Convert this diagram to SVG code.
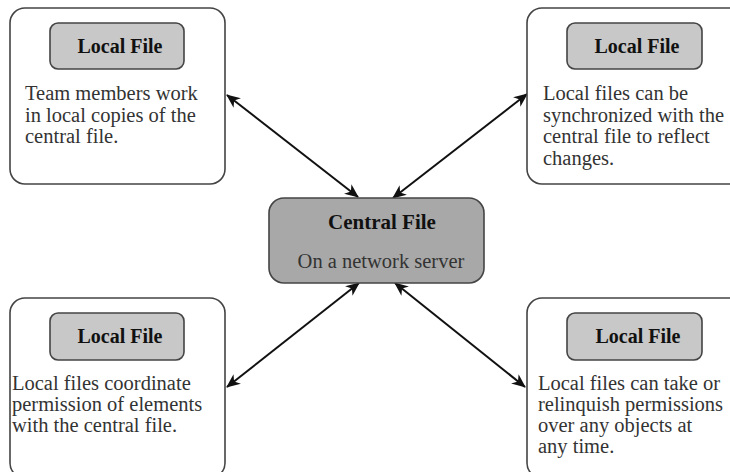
<svg xmlns="http://www.w3.org/2000/svg" width="730" height="472" viewBox="0 0 730 472">
  <style>
    .outer { fill: #ffffff; stroke: #444444; stroke-width: 1.6; }
    .tag { fill: #c8c8c8; stroke: #444444; stroke-width: 1.6; }
    .hub { fill: #a8a8a8; stroke: #444444; stroke-width: 1.6; }
    .title { font-family: "Liberation Serif", "DejaVu Serif", serif; font-weight: bold; font-size: 20px; fill: #111111; text-anchor: middle; }
    .body { font-family: "Liberation Serif", "DejaVu Serif", serif; font-size: 20.5px; fill: #333333; }
    .link { stroke: #111111; stroke-width: 2; fill: none; marker-start: url(#head); marker-end: url(#head); }
  </style>
  <defs>
    <marker id="head" viewBox="0 0 14 12" refX="13" refY="6" markerWidth="14" markerHeight="12" markerUnits="userSpaceOnUse" orient="auto-start-reverse">
      <path d="M0,0 L14,6 L0,12 L4,6 Z" fill="#111111"/>
    </marker>
  </defs>

  <rect width="730" height="472" fill="#ffffff"/>

  <!-- connectors between the central file and each local file -->
  <g id="connectors">
    <line class="link" x1="227" y1="95" x2="358" y2="197"/>
    <line class="link" x1="527" y1="94" x2="393" y2="198"/>
    <line class="link" x1="227" y1="387" x2="359" y2="283"/>
    <line class="link" x1="525" y1="387" x2="395" y2="283"/>
  </g>

  <g id="central">
    <rect class="hub" x="269" y="198" width="215" height="85" rx="15"/>
    <text class="title" x="382" y="229" style="font-size:21px">Central File</text>
    <text class="body" x="381" y="268" text-anchor="middle">On a network server</text>
  </g>

  <g id="local-top-left">
    <rect class="outer" x="10" y="8" width="215" height="176" rx="15"/>
    <rect class="tag" x="50" y="23" width="134" height="46" rx="8"/>
    <text class="title" x="120" y="53">Local File</text>
    <text class="body" x="25" y="100">Team members work</text>
    <text class="body" x="25" y="122">in local copies of the</text>
    <text class="body" x="25" y="143">central file.</text>
  </g>

  <g id="local-top-right">
    <rect class="outer" x="527" y="8" width="220" height="176" rx="15"/>
    <rect class="tag" x="567" y="23" width="135" height="46" rx="8"/>
    <text class="title" x="637" y="53">Local File</text>
    <text class="body" x="543" y="100">Local files can be</text>
    <text class="body" x="543" y="122">synchronized with the</text>
    <text class="body" x="543" y="143">central file to reflect</text>
    <text class="body" x="543" y="165">changes.</text>
  </g>

  <g id="local-bottom-left">
    <rect class="outer" x="10" y="298" width="215" height="180" rx="15"/>
    <rect class="tag" x="50" y="313" width="134" height="47" rx="8"/>
    <text class="title" x="120" y="343">Local File</text>
    <text class="body" x="12" y="390">Local files coordinate</text>
    <text class="body" x="12" y="411">permission of elements</text>
    <text class="body" x="12" y="432">with the central file.</text>
  </g>

  <g id="local-bottom-right">
    <rect class="outer" x="527" y="298" width="220" height="180" rx="15"/>
    <rect class="tag" x="567" y="313" width="135" height="47" rx="8"/>
    <text class="title" x="638" y="343">Local File</text>
    <text class="body" x="538" y="390">Local files can take or</text>
    <text class="body" x="538" y="411">relinquish permissions</text>
    <text class="body" x="538" y="432">over any objects at</text>
    <text class="body" x="538" y="453">any time.</text>
  </g>
</svg>
